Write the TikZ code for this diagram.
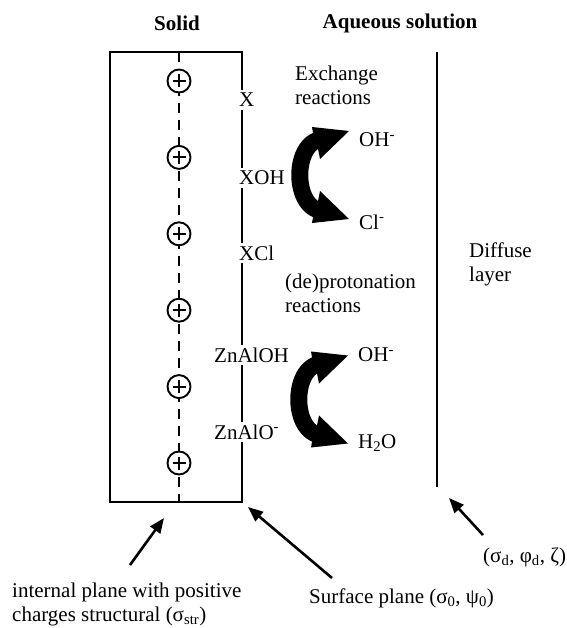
\documentclass[tikz,border=0pt]{standalone}
\usepackage{fontspec}
\setmainfont{Liberation Serif}
\usetikzlibrary{arrows.meta}
\begin{document}
\begin{tikzpicture}[x=1pt,y=-1pt,
  txt/.style={font=\fontsize{21}{24}\selectfont, inner sep=1pt},
  hd/.style={font=\fontsize{21}{24}\selectfont\bfseries, inner sep=1pt},
  surf/.style={txt, fill=white, inner sep=3pt, anchor=west},
  charge/.style={circle, draw, line width=1.9pt, fill=white, minimum size=23pt, inner sep=0pt},
  plane/.style={line width=2pt},
  pointer/.style={line width=2.6pt, -{Triangle[length=15pt,width=12pt]}},
  bent/.pic={\fill (9,-44) -- (-20,-16) -- (-22,-26) .. controls (-35,-17) and (-35,17) .. (-22,26)
     -- (-20,16) -- (9,44) -- (-28,48) -- (-27,42) .. controls (-56,30) and (-56,-30) .. (-27,-42)
     -- (-28,-48) -- cycle;}
  ]
\useasboundingbox (0,0) rectangle (566,628);

% headings
\node[hd] (solid) at (177,23) {Solid};
\node[hd] (aq) at (400,23) {Aqueous solution};

% solid box
\draw[plane, dash pattern=on 10pt off 7pt] (179,52) -- (179,502);
\draw[plane] (110,52) rectangle (242,502);
\foreach \i in {0,...,5}{
  \node[charge] (c\i) at (179,{81+76.4*\i}) {};
  \draw[line width=2pt] ([xshift=-6.5pt]c\i.center) -- ([xshift=6.5pt]c\i.center);
  \draw[line width=2pt] ([yshift=-6.5pt]c\i.center) -- ([yshift=6.5pt]c\i.center);
}

% surface labels
\node[surf] (x) at (236,100) {X};
\node[surf] (xoh) at (236,178) {XOH};
\node[surf] (xcl) at (236,253) {XCl};
\node[surf] (znaloh) at (211,355) {ZnAlOH};
\node[surf] (znalo) at (211,432) {ZnAlO\textsuperscript{-}};

% diffuse plane
\draw[plane] (437,52) -- (437,487);

% reaction texts
\node[txt, align=left, anchor=west] (exch) at (294,85) {Exchange\\reactions};
\node[txt, align=left, anchor=west] (deprot) at (284,293) {(de)protonation\\reactions};
\node[txt, align=left, anchor=west] (diff) at (468,264) {Diffuse\\layer};

\node[txt, anchor=west] (oh1) at (358,140) {OH\textsuperscript{-}};
\node[txt, anchor=west] (cl) at (358,222) {Cl\textsuperscript{-}};
\node[txt, anchor=west] (oh2) at (357,355) {OH\textsuperscript{-}};
\node[txt, anchor=west] (h2o) at (357,443) {H\textsubscript{2}O};

\pic at (340,175) {bent};
\pic at (339,399.5) {bent};

% bottom labels
\node[txt, align=left, anchor=west] (internal) at (11,604.5) {internal plane with positive\\charges structural (σ\textsubscript{str})};
\node[txt, anchor=west] (surface) at (308,598) {Surface plane (σ\textsubscript{0}, ψ\textsubscript{0})};
\node[txt, anchor=west] (dl) at (482,557) {(σ\textsubscript{d}, φ\textsubscript{d}, ζ)};

\coordinate (p1t) at (130,565);
\coordinate (p1h) at (164,518);
\coordinate (p2t) at (332,578);
\coordinate (p2h) at (248,507);
\coordinate (p3t) at (483,535);
\coordinate (p3h) at (449,498);
\draw[pointer] (p1t) -- (p1h);
\draw[pointer] (p2t) -- (p2h);
\draw[pointer] (p3t) -- (p3h);
\end{tikzpicture}
\end{document}
